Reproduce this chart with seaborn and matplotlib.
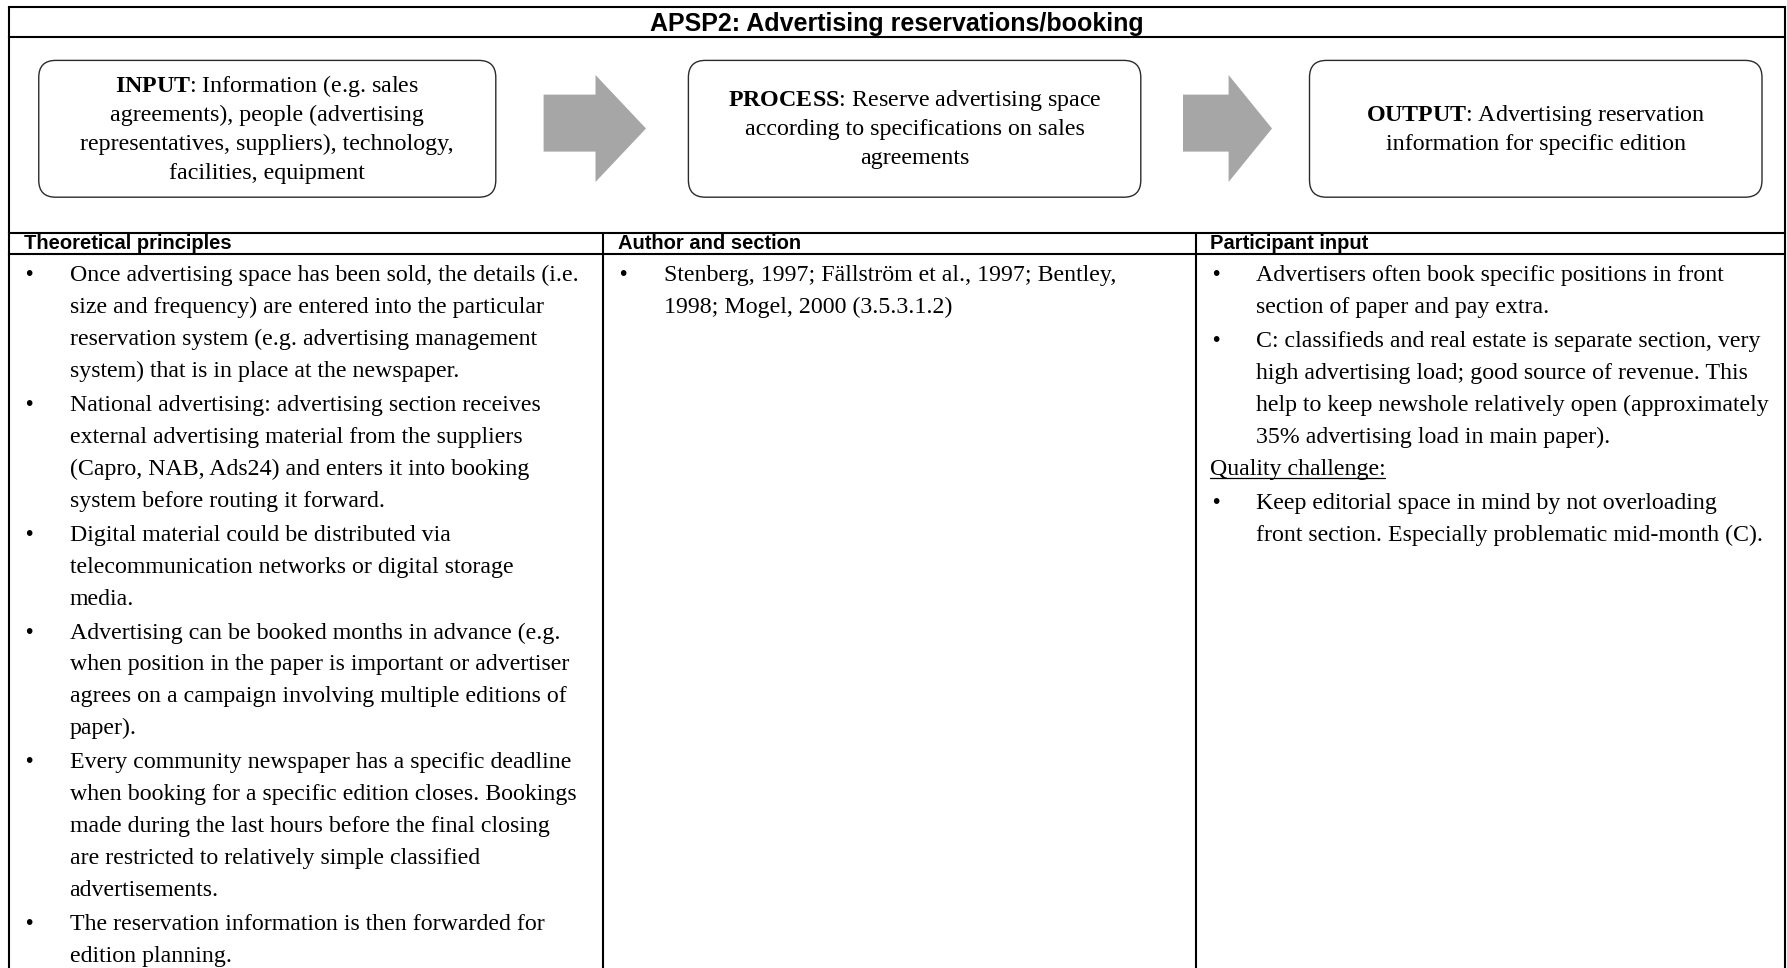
import matplotlib
matplotlib.use("Agg")
import matplotlib.pyplot as plt
import seaborn as sns
from matplotlib.patches import FancyBboxPatch, Polygon

# ---------------- data (text content) ----------------
TITLE = "APSP2: Advertising reservations/booking"

STAGE_NAMES = ["INPUT", "PROCESS", "OUTPUT"]
STAGE_LINES = [
    [": Information (e.g. sales", "agreements), people (advertising",
     "representatives, suppliers), technology,", "facilities, equipment"],
    [": Reserve advertising space", "according to specifications on sales",
     "agreements"],
    [": Advertising reservation", "information for specific edition"],
]

COL_HEADERS = ["Theoretical principles", "Author and section", "Participant input"]

THEORY = [
    ["Once advertising space has been sold, the details (i.e.",
     "size and frequency) are entered into the particular",
     "reservation system (e.g. advertising management",
     "system) that is in place at the newspaper."],
    ["National advertising: advertising section receives",
     "external advertising material from the suppliers",
     "(Capro, NAB, Ads24) and enters it into booking",
     "system before routing it forward."],
    ["Digital material could be distributed via",
     "telecommunication networks or digital storage",
     "media."],
    ["Advertising can be booked months in advance (e.g.",
     "when position in the paper is important or advertiser",
     "agrees on a campaign involving multiple editions of",
     "paper)."],
    ["Every community newspaper has a specific deadline",
     "when booking for a specific edition closes. Bookings",
     "made during the last hours before the final closing",
     "are restricted to relatively simple classified",
     "advertisements."],
    ["The reservation information is then forwarded for",
     "edition planning."],
]
THEORY_KIND = ["bullet"] * len(THEORY)

AUTHORS = [
    ["Stenberg, 1997; Fällström et al., 1997; Bentley,",
     "1998; Mogel, 2000 (3.5.3.1.2)"],
]
AUTHORS_KIND = ["bullet"]

PARTICIPANT = [
    ["Advertisers often book specific positions in front",
     "section of paper and pay extra."],
    ["C: classifieds and real estate is separate section, very",
     "high advertising load; good source of revenue. This",
     "help to keep newshole relatively open (approximately",
     "35% advertising load in main paper)."],
    ["Quality challenge:"],
    ["Keep editorial space in mind by not overloading",
     "front section. Especially problematic mid-month (C)."],
]
PARTICIPANT_KIND = ["bullet", "bullet", "heading", "bullet"]

# ---------------- style ----------------
sns.set_theme(style="white")
plt.rcParams['font.family'] = ['Liberation Serif', 'DejaVu Serif']
plt.rcParams['mathtext.fontset'] = 'custom'
plt.rcParams['mathtext.rm'] = 'Liberation Serif'
plt.rcParams['mathtext.bf'] = 'Liberation Serif:bold'

W, H = 1787, 968
fig = plt.figure(figsize=(W / 100, H / 100), dpi=100)
ax = fig.add_axes([0, 0, 1, 1])
ax.set_xlim(0, W)
ax.set_ylim(H, 0)
ax.axis("off")

LW = 1.5
LEFT, RIGHT, TOP = 9, 1785, 7
Y_TITLE_BOT, Y_HEAD_TOP, Y_HEAD_BOT = 36.5, 232.5, 254
COL_X = [LEFT, 603, 1195.5, RIGHT]

# grid
for y in [TOP, Y_TITLE_BOT, Y_HEAD_TOP, Y_HEAD_BOT]:
    ax.plot([LEFT, RIGHT], [y, y], color="black", lw=LW, solid_capstyle="projecting")
ax.plot([LEFT, LEFT], [TOP, H], color="black", lw=LW)
ax.plot([RIGHT, RIGHT], [TOP, H], color="black", lw=LW)
for x in COL_X[1:3]:
    ax.plot([x, x], [Y_HEAD_TOP, H], color="black", lw=LW)

sans = ['Liberation Sans', 'DejaVu Sans']
ax.text((LEFT + RIGHT) / 2, 23.5, TITLE, ha="center", va="center",
        fontsize=18, fontweight="bold", family=sans, color="black")

for x, h in zip(COL_X[:3], COL_HEADERS):
    ax.text(x + 15, (Y_HEAD_TOP + Y_HEAD_BOT) / 2 + 0.5, h, ha="left", va="center",
            fontsize=14.5, fontweight="bold", family=sans, color="black")

# process boxes
BOX_X = [(38.75, 495.8), (688.4, 1140.8), (1309.5, 1762)]
BOX_Y = (60.4, 197.2)
BOX_FS = 17.3
BOX_LS = 29
for (x0, x1), name, lines in zip(BOX_X, STAGE_NAMES, STAGE_LINES):
    box = FancyBboxPatch((x0, BOX_Y[0]), x1 - x0, BOX_Y[1] - BOX_Y[0],
                         boxstyle="round,pad=0,rounding_size=17",
                         fc="white", ec="#2b2b2b", lw=1.0)
    ax.add_patch(box)
    cx = (x0 + x1) / 2
    cy = (BOX_Y[0] + BOX_Y[1]) / 2
    n = len(lines)
    for i, ln in enumerate(lines):
        txt = (r"$\mathbf{" + name + "}$" + ln) if i == 0 else ln
        yb = cy + (i - (n - 1) / 2) * BOX_LS + 6.5
        ax.text(cx, yb, txt, ha="center", va="baseline", fontsize=BOX_FS, color="black")

# arrows
ARROWS = [(543.6, 595.5, 646), (1183, 1228.6, 1272)]
BODY_Y = (94.6, 151.6)
HEAD_Y = (75, 182)
for xs, xh, xt in ARROWS:
    pts = [(xs, BODY_Y[0]), (xh, BODY_Y[0]), (xh, HEAD_Y[0]),
           (xt, (HEAD_Y[0] + HEAD_Y[1]) / 2), (xh, HEAD_Y[1]),
           (xh, BODY_Y[1]), (xs, BODY_Y[1])]
    ax.add_patch(Polygon(pts, closed=True, fc="#a6a6a6", ec="none"))

# body columns
FS = 17.2
LS = 31.9
PG = 2.05
Y0 = 281.5
BULLET_DX = 16.5
TEXT_DX = 60.5

fig.canvas.draw()
renderer = fig.canvas.get_renderer()


def draw_column(x_left, paras, kinds):
    line = 0
    gaps = 0
    for k, (para, kind) in enumerate(zip(paras, kinds)):
        if k > 0 and kind != "heading":
            gaps += 1
        for j, ln in enumerate(para):
            yb = Y0 + line * LS + gaps * PG
            if kind == "bullet":
                if j == 0:
                    ax.text(x_left + BULLET_DX, yb - 1, "•", ha="left", va="baseline",
                            fontsize=15, family=sans, color="black")
                ax.text(x_left + TEXT_DX, yb, ln, ha="left", va="baseline",
                        fontsize=FS, color="black")
            else:
                t = ax.text(x_left + 14, yb, ln, ha="left", va="baseline",
                            fontsize=FS, color="black")
                bb = t.get_window_extent(renderer=renderer)
                inv = ax.transData.inverted()
                (xa, _), (xb, _) = inv.transform([(bb.x0, bb.y0), (bb.x1, bb.y0)])
                ax.plot([xa, xb], [yb + 3.5, yb + 3.5], color="black", lw=0.9)
            line += 1


draw_column(COL_X[0], THEORY, THEORY_KIND)
draw_column(COL_X[1], AUTHORS, AUTHORS_KIND)
draw_column(COL_X[2], PARTICIPANT, PARTICIPANT_KIND)

fig.savefig("out.png", dpi=100, facecolor="white")
